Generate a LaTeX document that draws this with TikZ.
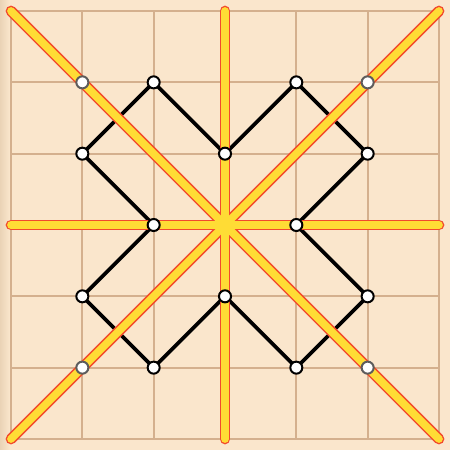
\documentclass[tikz,border=0pt]{standalone}
\usepackage{tikz}

\definecolor{papir}{HTML}{FAE6CC}
\definecolor{szel}{HTML}{EAD3B6}
\definecolor{racsszin}{HTML}{D4B08E}
\definecolor{sarga}{HTML}{FFDC35}
\definecolor{piros}{HTML}{F24A2C}
\definecolor{szurke}{HTML}{5C5C5C}

\begin{document}
\begin{tikzpicture}[scale=1,
	racs/.style={racsszin,line width=0.8pt},
	tukor/.style={line width=4.3pt,line cap=round},
	alak/.style={black,line width=1.5pt,line join=round},
	csucs/.style={circle,draw=black,fill=white,line width=0.8pt,inner sep=0pt,minimum size=4.8pt},
	sarok/.style={circle,draw=szurke,fill=white,line width=0.8pt,inner sep=0pt,minimum size=4.8pt}]
				% hatter
				\useasboundingbox (-3.1545,-3.1545) rectangle (3.1545,3.1545);
				\fill[papir] (-3.1545,-3.1545) rectangle (3.1545,3.1545);
				\shade[left color=szel,right color=papir] (-3.1545,-3.1545) rectangle (-3.02,3.1545);
				
				% racsvonalak
				\draw[racs,step=1cm] (-3,-3) grid (3,3);
				
				% csucsok
				\coordinate (a) at (-1,2);
				\coordinate (b) at (0,1);
				\coordinate (c) at (1,2);
				\coordinate (d) at (2,1);
				\coordinate (e) at (1,0);
				\coordinate (f) at (2,-1);
				\coordinate (g) at (1,-2);
				\coordinate (h) at (0,-1);
				\coordinate (i) at (-1,-2);
				\coordinate (j) at (-2,-1);
				\coordinate (k) at (-1,0);
				\coordinate (l) at (-2,1);
				
				% alakzat
				\draw[alak] (a) -- (b) -- (c) -- (d) -- (e) -- (f) -- (g) -- (h) -- (i) -- (j) -- (k) -- (l) -- cycle;
				
				% tukortengelyek
				\coordinate (bal) at (-3,0);
				\coordinate (jobb) at (3,0);
				\coordinate (fent) at (0,3);
				\coordinate (lent) at (0,-3);
				\coordinate (ba) at (-3,-3);
				\coordinate (jf) at (3,3);
				\coordinate (bf) at (-3,3);
				\coordinate (ja) at (3,-3);
				\foreach \p/\q in {bal/jobb,fent/lent,ba/jf,bf/ja}
					\draw[tukor,piros] (\p) -- (\q);
				\foreach \p/\q in {bal/jobb,fent/lent,ba/jf,bf/ja}
					\draw[tukor,sarga,line width=3.1pt] (\p) -- (\q);
				
				% pontok
				\foreach \c in {a,b,c,d,e,f,g,h,i,j,k,l}
					\node[csucs] (p\c) at (\c) {};
				\node[sarok] (s1) at (-2,2) {};
				\node[sarok] (s2) at (2,2) {};
				\node[sarok] (s3) at (-2,-2) {};
				\node[sarok] (s4) at (2,-2) {};
				
			\end{tikzpicture}
\end{document}
